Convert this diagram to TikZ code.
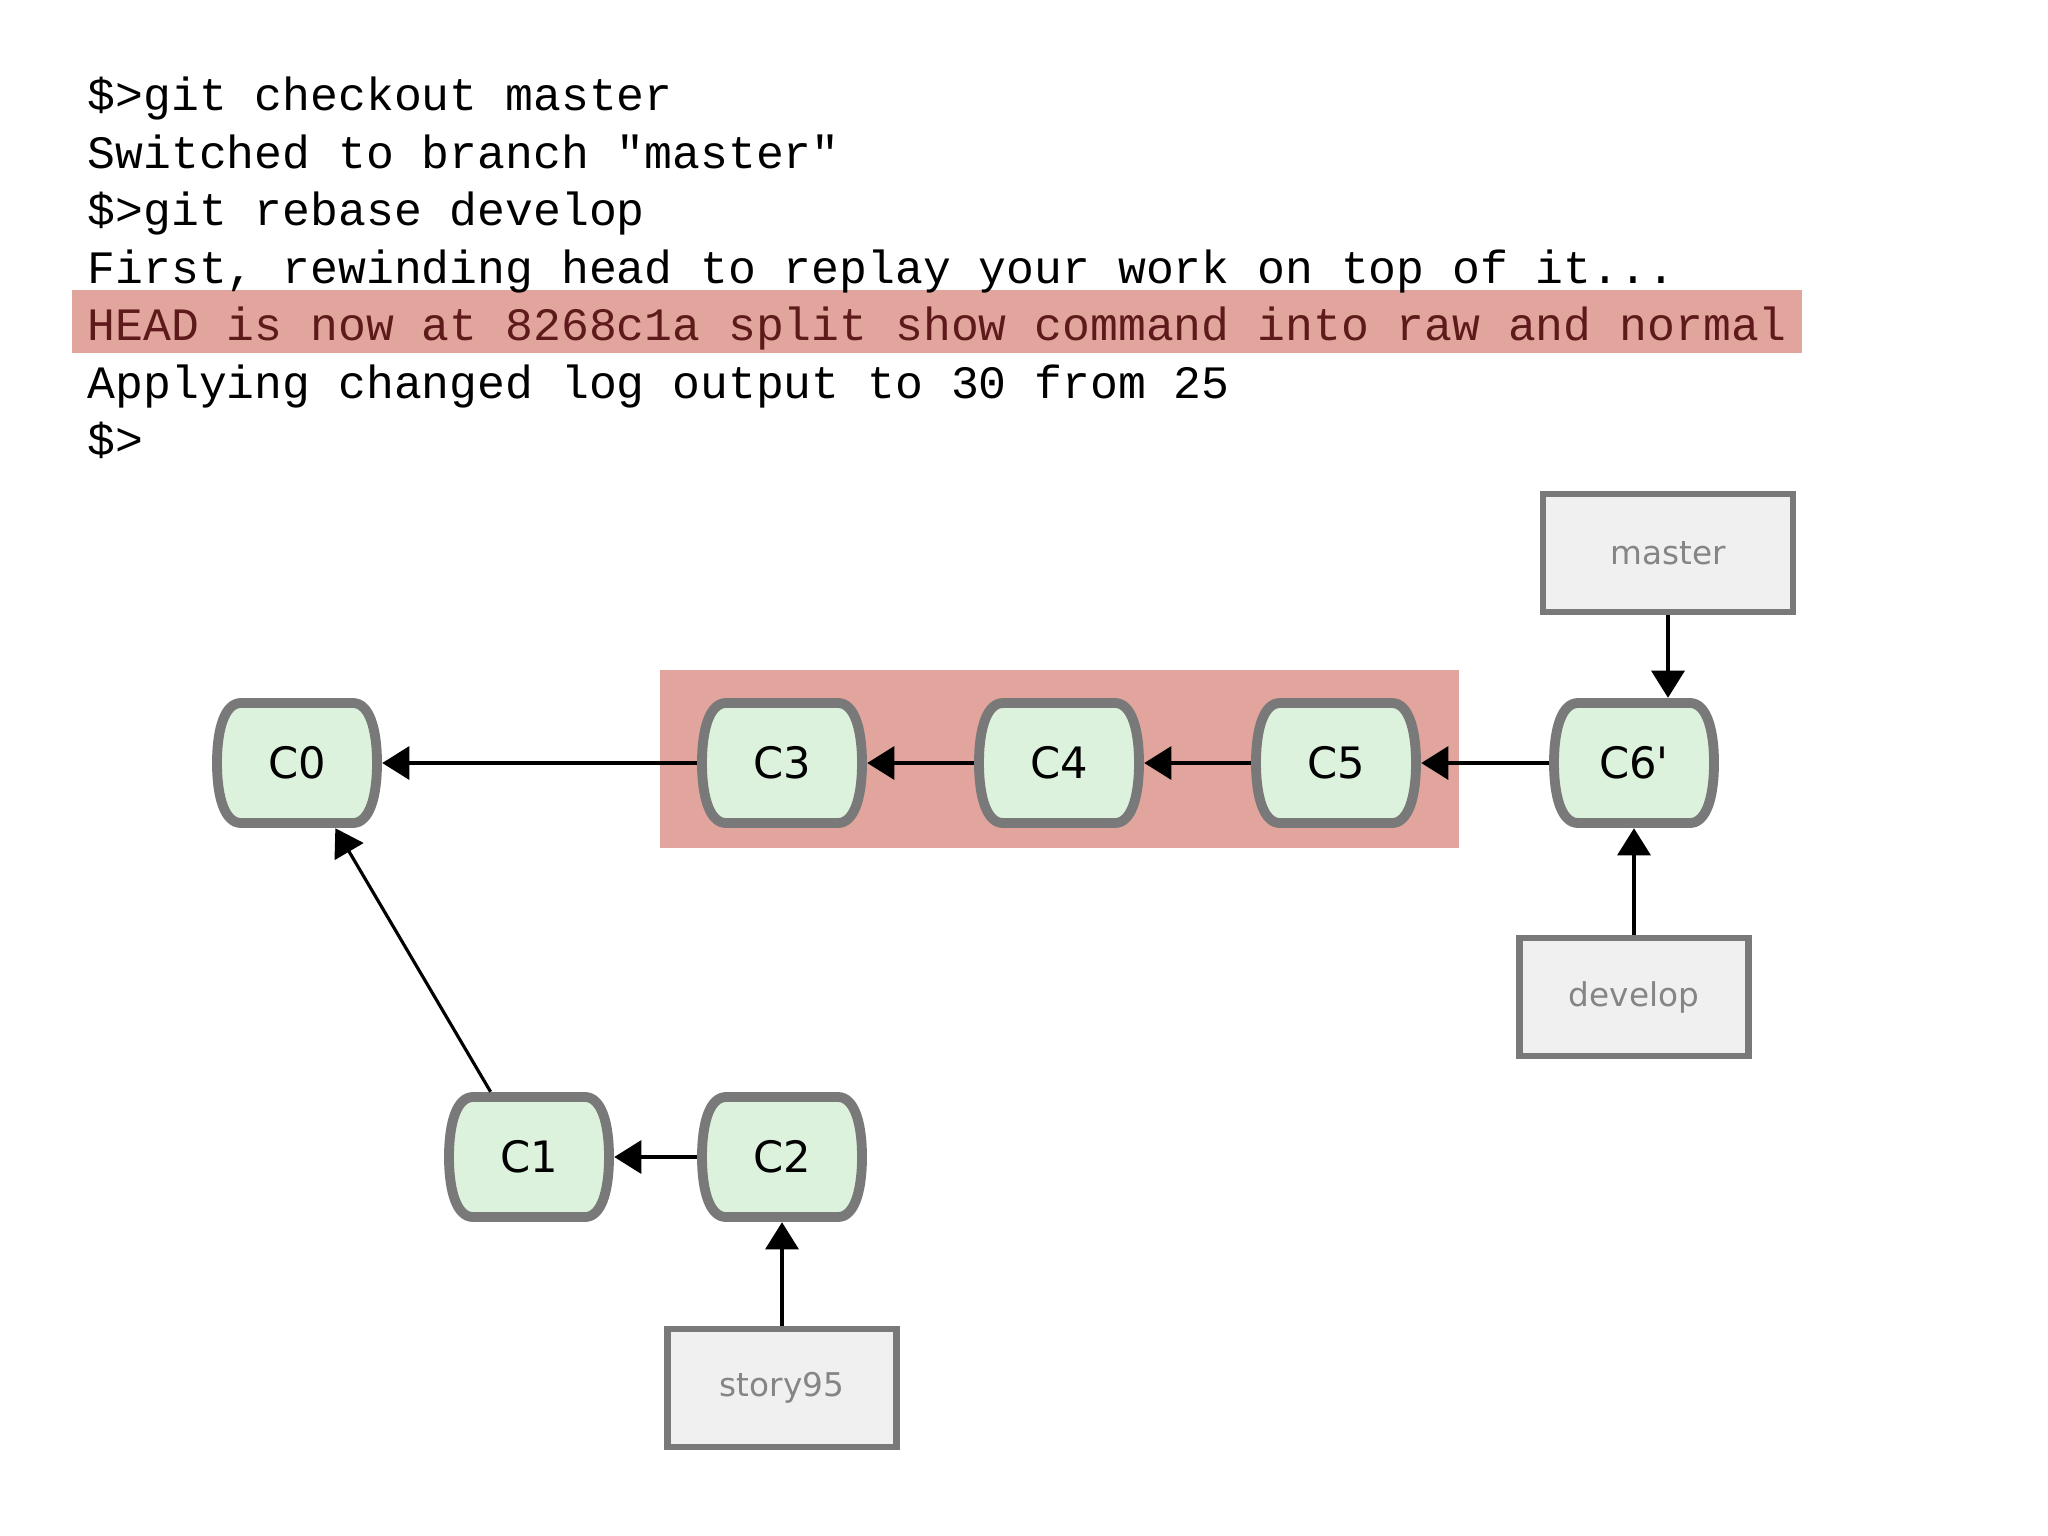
\documentclass[tikz,border=0pt]{standalone}
\usepackage{fontspec}
\setmonofont{Liberation Mono}
\newfontfamily\graphfont{DejaVu Sans}
\usetikzlibrary{arrows.meta}

\definecolor{commitfill}{HTML}{DCF2DD}
\definecolor{commitline}{HTML}{797979}
\definecolor{branchfill}{HTML}{F0F0F0}
\definecolor{branchtext}{HTML}{858585}
\definecolor{marked}{HTML}{E2A59E}
\definecolor{markedtext}{HTML}{5E1A1A}

\tikzset{
	commit/.style={minimum width=1.69cm, minimum height=1.29cm, inner sep=0pt, font=\graphfont\fontsize{12.3pt}{14pt}\selectfont},
	barrel/.style={fill=commitfill, draw=commitline, line width=2.8pt, line join=round},
	branch/.style={fill=branchfill, draw=commitline, line width=1.9pt, inner sep=0pt, minimum height=1.18cm, text=branchtext, font=\graphfont\fontsize{9.3pt}{11pt}\selectfont},
	ptr/.style={-{Triangle[length=7.7pt,width=9.4pt]}, line width=0.9pt, black},
	shell/.style={anchor=base west, inner sep=0pt, font=\ttfamily\fontsize{13.2pt}{15pt}\selectfont}
}

\begin{document}
\begin{tikzpicture}[x=0.01cm, y=-0.01cm]
			\useasboundingbox (0,0) rectangle (2048,1536);
			
			\fill[marked] (72,290) rectangle (1802,353);
			\node[shell] (l1) at (87,110) {\$>git checkout master};
			\node[shell] (l2) at (87,168) {Switched to branch "master"};
			\node[shell] (l3) at (87,225) {\$>git rebase develop};
			\node[shell] (l4) at (87,283) {First, rewinding head to replay your work on top of it...};
			\node[shell, text=markedtext] (l5) at (87,340) {HEAD is now at 8268c1a split show command into raw and normal};
			\node[shell] (l6) at (87,398) {Applying changed log output to 30 from 25};
			\node[shell] (l7) at (87,455) {\$>};
			
			\fill[marked] (660,670) rectangle (1459,848);
			
			\foreach \n/\x/\y/\t in {C0/297/763/C0, C3/782/763/C3, C4/1059/763/C4, C5/1336/763/C5, C6p/1634/763/C6\textquotesingle, C1/529/1157/C1, C2/782/1157/C2}{
				\filldraw[barrel] (\x-56,\y-60) -- (\x+56,\y-60) .. controls (\x+72,\y-60) and (\x+80,\y-35) .. (\x+80,\y) .. controls (\x+80,\y+35) and (\x+72,\y+60) .. (\x+56,\y+60) -- (\x-56,\y+60) .. controls (\x-72,\y+60) and (\x-80,\y+35) .. (\x-80,\y) .. controls (\x-80,\y-35) and (\x-72,\y-60) .. cycle;
				\node[commit] (\n) at (\x,\y) {\t};
			}
			
			\node[branch, minimum width=2.50cm] (master) at (1668,553) {master};
			\node[branch, minimum width=2.29cm] (develop) at (1634,997) {develop};
			\node[branch, minimum width=2.29cm] (story95) at (782,1388) {story95};
			
			\draw[ptr] (C3) -- (C0);
			\draw[ptr] (C4) -- (C3);
			\draw[ptr] (C5) -- (C4);
			\draw[ptr] (C6p) -- (C5);
			\draw[ptr] (C2) -- (C1);
			\draw[ptr] (C1) -- (C0);
			\draw[ptr] (master) -- (master |- C6p.north);
			\draw[ptr] (develop) -- (C6p);
			\draw[ptr] (story95) -- (C2);
		
\end{tikzpicture}
\end{document}
